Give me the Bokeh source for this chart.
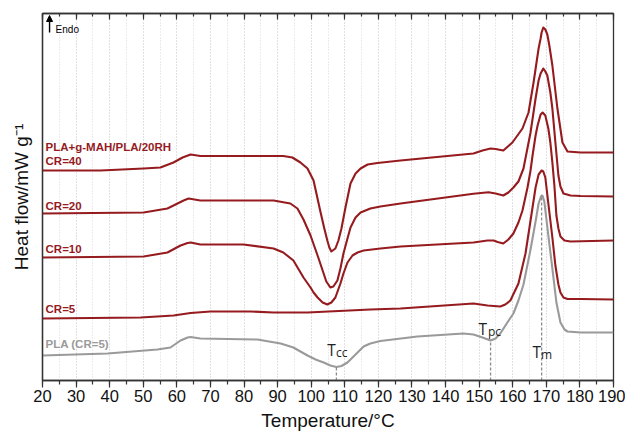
from bokeh.plotting import figure
from bokeh.models import (Range1d, LinearAxis, SingleIntervalTicker, FixedTicker, Label,
                          Arrow, NormalHead, ColumnDataSource)
from bokeh.embed import file_html
from bokeh.resources import INLINE

# ---------------- data (temperature in °C, heat flow in arbitrary offset units) -------------
temp_cr40 = [20.0, 37.3, 50.1, 55.1, 59.0, 61.7, 64.1, 67.0, 91.7, 94.4, 96.8, 98.9, 100.7,
             102.8, 103.9, 104.8, 105.4, 106.0, 107.2, 108.1, 109.0, 110.2, 111.7, 113.2,
             114.7, 116.8, 119.7, 126.6, 148.3, 151.0, 153.4, 154.9, 157.2, 159.9, 162.9,
             164.7, 166.2, 167.7, 168.3, 168.6, 169.1, 169.7, 170.3, 170.9, 171.8, 173.3,
             174.8, 176.3, 180.2, 190.0]
flow_cr40 = [210, 210, 212, 213, 218, 223, 226, 224.5, 224.5, 223, 218, 212, 200, 168, 152,
             140, 133, 129, 132, 140, 152, 173, 197, 207, 212, 216, 217.5, 220, 227, 230,
             232, 231.5, 230, 238, 252, 268, 298, 332, 342, 348, 353, 351, 346, 335, 315,
             272, 238, 229, 228, 228]

temp_cr20 = [20.0, 50.1, 57.2, 60.2, 62.0, 63.5, 67.0, 88.8, 93.8, 95.9, 97.7, 99.8, 101.9,
             103.4, 104.5, 105.7, 106.6, 107.8, 108.7, 109.6, 110.8, 111.7, 113.2, 114.7,
             117.6, 120.6, 126.6, 148.3, 152.8, 154.9, 157.2, 158.7, 160.2, 161.7, 163.2,
             165.3, 166.8, 167.7, 168.3, 169.1, 169.7, 170.3, 171.2, 171.8, 172.7, 173.6,
             174.2, 175.1, 177.2, 180.2, 190.0]
flow_cr20 = [167, 168, 172, 177, 180, 182, 180, 180, 177, 172, 161, 145, 125, 110, 99, 93,
             94, 100, 112, 127, 142, 153, 163, 168, 172, 174, 177, 186.7, 188.3, 187, 185,
             188, 193, 199, 212, 248, 282, 300, 307, 312, 309, 305, 288, 272, 238, 205, 194,
             187, 185, 184.5, 184]

temp_cr10 = [20.0, 50.1, 57.2, 61.1, 63.2, 64.1, 67.0, 79.8, 88.8, 91.7, 94.7, 97.7, 99.8,
             100.7, 101.9, 103.4, 104.8, 106.0, 107.2, 108.7, 109.6, 110.8, 112.3, 113.8,
             115.6, 120.6, 126.6, 148.3, 152.5, 154.3, 155.5, 157.2, 158.7, 160.2, 161.7,
             162.9, 164.4, 165.3, 165.9, 166.8, 167.4, 168.3, 168.9, 169.7, 170.6, 171.2,
             171.8, 172.4, 173.0, 173.6, 174.2, 175.4, 177.2, 190.0]
flow_cr10 = [123, 124, 128, 135, 137.5, 138, 136, 136, 132, 128, 120, 103, 93, 88, 83, 78,
             76, 78, 83, 97, 107, 118, 125, 128, 130, 132, 134, 138, 140, 140, 138.5, 137,
             141, 147, 158, 170, 193, 210, 225, 245, 255, 266, 268, 265, 252, 238, 218, 195,
             165, 152, 144, 140, 139, 140]

temp_cr5 = [20.0, 49.2, 59.0, 64.1, 70.0, 81.9, 88.8, 98.9, 117.6, 126.6, 148.3, 152.5,
            154.3, 156.3, 157.8, 159.3, 161.7, 163.8, 165.3, 166.8, 167.7, 168.6, 169.1,
            169.7, 170.6, 171.8, 172.7, 173.6, 174.2, 175.1, 176.3, 180.2, 190.0]
flow_cr5 = [62, 63, 65, 67.5, 69, 69, 68, 68, 71, 72, 77, 75, 74.5, 74, 76, 80, 97, 127,
            160, 193, 206, 210, 209, 203, 177, 143, 115, 96, 88, 83, 81.5, 81.5, 81]

temp_pla = [20.0, 39.4, 54.2, 58.1, 61.1, 63.2, 64.1, 67.0, 84.0, 90.9, 94.7, 96.8, 98.9,
            101.3, 103.7, 105.7, 107.5, 109.0, 110.8, 112.3, 113.8, 115.6, 117.6, 120.6,
            131.6, 145.3, 148.3, 151.0, 153.4, 154.9, 156.3, 158.4, 160.2, 161.7, 163.2,
            165.3, 166.8, 167.7, 168.3, 168.6, 168.9, 169.4, 170.6, 171.8, 173.0, 174.2,
            175.4, 176.3, 180.2, 190.0]
flow_pla = [25, 27, 31, 33, 40, 43, 43.5, 42, 41, 37, 33, 29, 25, 21, 18, 15, 13.5, 14.5, 18,
            23, 28, 34, 37, 39.5, 44, 47, 46, 43, 40, 42, 47, 58, 67, 80, 96, 131, 159, 177,
            183, 185, 184.5, 179, 145, 112, 78, 58, 51, 49, 48, 48]

# characteristic temperatures of PLA (CR=5): cold crystallisation, pre-melt crystallisation, melting
marker_names = ["cc", "pc", "m"]
marker_temps = [107.5, 153.4, 168.6]
marker_flows = [13.5, 40, 185]

curve_labels = ["CR=40", "CR=20", "CR=10", "CR=5", "PLA (CR=5)"]
x_ticks_interval = 10

RED = "#951b1f"
GRAY = "#9a9a9a"
FONT = "Liberation Sans"
AXC = "#333333"

p = figure(width=625, height=434, x_range=Range1d(20, 190), y_range=Range1d(0, 367),
           output_backend="svg", toolbar_location=None,
           min_border_left=42, min_border_right=12, min_border_top=13, min_border_bottom=54)
p.background_fill_color = "white"
p.border_fill_color = "white"
p.outline_line_color = AXC
p.outline_line_width = 1.3

ticker = SingleIntervalTicker(interval=x_ticks_interval, num_minor_ticks=2)
ax = p.xaxis[0]
ax.ticker = ticker
ax.axis_line_color = AXC
ax.axis_line_width = 1.3
ax.major_tick_out = 7
ax.major_tick_in = 0
ax.minor_tick_out = 4
ax.minor_tick_in = 0
ax.major_tick_line_color = AXC
ax.minor_tick_line_color = AXC
ax.major_tick_line_width = 1.2
ax.minor_tick_line_width = 1.2
ax.major_label_text_font = FONT
ax.major_label_text_font_size = "16.5px"
ax.major_label_text_color = "#111111"
ax.major_label_standoff = 2
ax.axis_label = "Temperature/°C"
ax.axis_label_text_font = FONT
ax.axis_label_text_font_size = "19px"
ax.axis_label_text_font_style = "normal"
ax.axis_label_text_color = "#111111"
ax.axis_label_standoff = 5

ay = p.yaxis[0]
ay.ticker = FixedTicker(ticks=[])
ay.major_tick_out = 0
ay.major_tick_in = 0
ay.minor_tick_out = 0
ay.minor_tick_in = 0
ay.major_label_standoff = 0
ay.axis_line_color = AXC
ay.axis_line_width = 1.3
ay.axis_label = "Heat flow/mW g⁻¹"
ay.axis_label_text_font = FONT
ay.axis_label_text_font_size = "19px"
ay.axis_label_text_font_style = "normal"
ay.axis_label_text_color = "#111111"
ay.axis_label_standoff = 11

top = LinearAxis(ticker=ticker, major_label_text_font_size="1px", major_label_standoff=0,
                 major_label_text_color=None, major_label_text_alpha=0,
                 major_tick_in=6, major_tick_out=0, minor_tick_in=3, minor_tick_out=0,
                 axis_line_color=AXC, axis_line_width=1.3,
                 major_tick_line_color=AXC, minor_tick_line_color=AXC,
                 major_tick_line_width=1.2, minor_tick_line_width=1.2)
p.add_layout(top, "above")

p.ygrid.visible = False
p.xgrid.ticker = ticker
p.xgrid.grid_line_color = "#d6d6d6"
p.xgrid.grid_line_dash = "1 2"
p.xgrid.minor_grid_line_color = "#d6d6d6"
p.xgrid.minor_grid_line_dash = "1 2"

series = [(temp_cr40, flow_cr40, RED), (temp_cr20, flow_cr20, RED),
          (temp_cr10, flow_cr10, RED), (temp_cr5, flow_cr5, RED),
          (temp_pla, flow_pla, GRAY)]
for t, f, c in series:
    src = ColumnDataSource(dict(t=t, f=f))
    p.line("t", "f", source=src, line_color=c, line_width=2.1, line_join="round")

p.segment(x0=marker_temps, y0=[0] * len(marker_temps), x1=marker_temps, y1=marker_flows,
          line_color="#8a8a8a", line_width=1.3, line_dash="3 2")

# curve labels
label_pos = [234, 220, 175, 132, 72, 37]
texts = ["PLA+g-MAH/PLA/20RH"] + curve_labels
colors = [RED] * 5 + [GRAY]
for txt, yv, col in zip(texts, label_pos, colors):
    p.add_layout(Label(x=20.9, y=yv, text=txt, text_font=FONT, text_font_size="11.5px",
                       text_font_style="bold", text_color=col, text_baseline="middle",
                       text_align="left"))

# T_cc, T_pc, T_m annotations
t_pos = [(104.8, 31, 107.4, 28), (149.8, 52, 152.6, 49), (165.9, 29, 168.4, 26)]
for name, (xt, yt, xs, ys) in zip(marker_names, t_pos):
    p.add_layout(Label(x=xt, y=yt, text="T", text_font="Open Sans", text_font_size="15.5px",
                       text_color="#222222", text_baseline="alphabetic", text_align="left"))
    p.add_layout(Label(x=xs, y=ys, text=name, text_font="Open Sans", text_font_size="12px",
                       text_color="#222222", text_baseline="alphabetic", text_align="left"))

# Endo arrow
p.add_layout(Arrow(end=NormalHead(size=6, line_color="black", fill_color="black"),
                   x_start=22.1, y_start=348, x_end=22.1, y_end=365,
                   line_color="black", line_width=1.4))
p.add_layout(Label(x=23.9, y=351, text="Endo", text_font=FONT, text_font_size="10px",
                   text_color="black", text_baseline="middle", text_align="left"))

open("out.html", "w").write(file_html(p, INLINE))
